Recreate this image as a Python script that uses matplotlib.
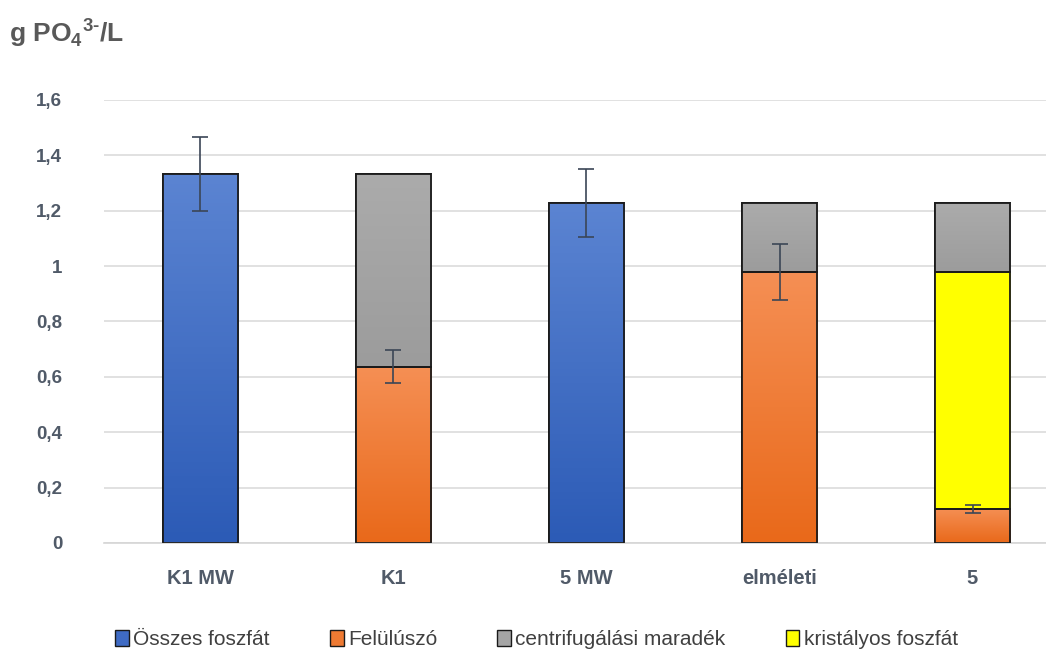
import numpy as np
import matplotlib
matplotlib.use("Agg")
import matplotlib.pyplot as plt
from matplotlib.patches import Patch
from matplotlib.colors import LinearSegmentedColormap
from matplotlib.ticker import FuncFormatter, MultipleLocator

plt.rcParams['font.family'] = ['Liberation Sans', 'DejaVu Sans']
plt.rcParams['mathtext.fontset'] = 'custom'
plt.rcParams['mathtext.rm'] = 'Liberation Sans:bold'
plt.rcParams['mathtext.bf'] = 'Liberation Sans:bold'

# data
categories = ['K1 MW', 'K1', '5 MW', 'elméleti', '5']
osszes = [1.333, 0, 1.228, 0, 0]
osszes_err = [0.133, 0, 0.123, 0, 0]
felulusz = [0, 0.636, 0, 0.979, 0.123]
felulusz_err = [0, 0.06, 0, 0.10, 0.015]
kristaly = [0, 0, 0, 0, 0.856]
centrif = [0, 0.697, 0, 0.249, 0.249]

series_names = ['Összes foszfát', 'Felülúszó', 'centrifugálási maradék', 'kristályos foszfát']

# colours: (top, bottom) of the gradient
blue = ('#5B84D2', '#2C5BB6')
orange = ('#F58F54', '#E9691A')
gray = ('#ABABAB', '#9C9C9C')
yellow = ('#FFFF00', '#FFFF00')

fig = plt.figure(figsize=(10.46, 6.62), dpi=100)
ax = fig.add_axes([0.0994, 0.1798, 0.9226, 0.6692])

x = np.arange(len(categories))
width = 0.39


def grad_bars(vals, bottoms, cols):
    cmap = LinearSegmentedColormap.from_list('g', [cols[1], cols[0]])
    grad = np.linspace(0, 1, 100).reshape(-1, 1)
    for xi, v, b in zip(x, vals, bottoms):
        if v <= 0:
            continue
        r = ax.bar(xi, v, width, bottom=b, color=cols[1], edgecolor='#1a1a1a',
                   linewidth=1.3, zorder=2)[0]
        im = ax.imshow(grad, cmap=cmap, aspect='auto', origin='lower',
                       extent=[xi - width / 2, xi + width / 2, b, b + v], zorder=2.5)
        im.set_clip_path(r)
        # redraw edge on top
        ax.bar(xi, v, width, bottom=b, fill=False, edgecolor='#1a1a1a',
               linewidth=1.3, zorder=3)


zeros = np.zeros(len(categories))
b1 = zeros + np.array(osszes)
b2 = b1 + np.array(felulusz)
b3 = b2 + np.array(kristaly)

grad_bars(osszes, zeros, blue)
grad_bars(felulusz, b1, orange)
grad_bars(kristaly, b2, yellow)
grad_bars(centrif, b3, gray)

err_kw = dict(fmt='none', ecolor='#3B4656', elinewidth=1.2, capsize=6, capthick=1.2, zorder=4)
for xi, v, e, b in zip(x, osszes, osszes_err, zeros):
    if e > 0:
        ax.errorbar(xi, b + v, yerr=e, **err_kw)
for xi, v, e, b in zip(x, felulusz, felulusz_err, b1):
    if e > 0:
        ax.errorbar(xi, b + v, yerr=e, **err_kw)

ax.set_xlim(-0.5, len(categories) - 0.5)
ax.set_ylim(0, 1.6)
ax.yaxis.set_major_locator(MultipleLocator(0.2))
ax.yaxis.set_major_formatter(FuncFormatter(lambda v, p: ('%g' % round(v, 1)).replace('.', ',')))
ax.set_xticks(x)
ax.set_xticklabels(categories, fontsize=14.5, fontweight='bold', color='#505A68')
for lab in ax.get_yticklabels():
    lab.set_fontsize(13.5)
    lab.set_fontweight('bold')
    lab.set_color('#505A68')
ax.tick_params(axis='both', length=0)
ax.tick_params(axis='y', pad=30)
ax.tick_params(axis='x', pad=19)
ax.grid(axis='y', color='#DCDCDC', linewidth=1.2, zorder=0)
ax.set_axisbelow(True)
for s in ax.spines.values():
    s.set_visible(False)
ax.spines['bottom'].set_visible(True)
ax.spines['bottom'].set_color('#D6D6D6')
ax.spines['bottom'].set_linewidth(1.2)

fig.text(0.009, 0.951, r'g PO$_4$$^{3\text{-}}$/L', fontsize=19, fontweight='bold',
         color='#595959', va='center', ha='left')

handles = [Patch(facecolor=c, edgecolor='#1a1a1a', linewidth=1.0)
           for c in ['#3F6BC4', '#EE7A33', '#A5A5A5', '#FFFF00']]
fig.legend(handles, series_names, loc='center', bbox_to_anchor=(0.513, 0.034), ncol=4,
           frameon=False, handlelength=0.65, handleheight=0.8, handletextpad=0.2,
           columnspacing=2.9, prop={'size': 15}, labelcolor='#404040')

fig.savefig('out.png', dpi=100)
